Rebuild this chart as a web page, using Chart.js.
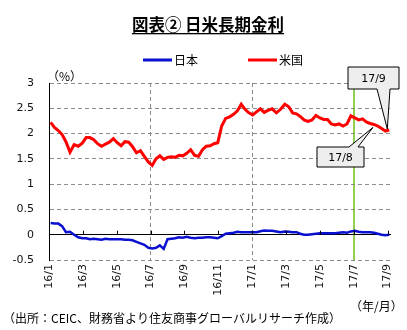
<!DOCTYPE html>
<html lang="ja">
  <head>
    <meta charset="UTF-8" />
    <title>日米長期金利</title>
    <script src="https://cdn.jsdelivr.net/npm/chart.js@4.4.0/dist/chart.umd.min.js"></script>
    <style>
      body { margin: 0; background: #fff; }
      #wrap { width: 407px; height: 330px; }
    </style>
  </head>
  <body>
    <div id="wrap"><canvas id="rates" width="407" height="330"></canvas></div>

    <script>
      // weekly closes, starting Monday 2016-01-04
      var firstWeek = [2016, 0, 4];

      var jpYield = [
        0.23, 0.22, 0.22, 0.17, 0.05, 0.06, 0.00, -0.05, -0.07, -0.07,
        -0.09, -0.08, -0.09, -0.10, -0.08, -0.09, -0.09, -0.09, -0.09, -0.10,
        -0.10, -0.11, -0.14, -0.17, -0.20, -0.26, -0.27, -0.26, -0.21, -0.28,
        -0.09, -0.08, -0.07, -0.05, -0.06, -0.04, -0.06, -0.07, -0.06, -0.06,
        -0.05, -0.05, -0.06, -0.07, -0.03, 0.02, 0.03, 0.04, 0.06, 0.05,
        0.05, 0.05, 0.05, 0.05, 0.07, 0.085, 0.08, 0.08, 0.065, 0.05,
        0.065, 0.06, 0.05, 0.05, 0.02, 0.00, 0.00, 0.01, 0.02, 0.03,
        0.03, 0.03, 0.03, 0.03, 0.04, 0.05, 0.04, 0.065, 0.08, 0.06,
        0.05, 0.05, 0.05, 0.04, 0.02, 0.00, -0.01, 0.00
      ];

      var usYield = [
        2.22, 2.12, 2.06, 1.98, 1.84, 1.63, 1.78, 1.75, 1.81, 1.92,
        1.92, 1.88, 1.80, 1.75, 1.79, 1.83, 1.90, 1.82, 1.76, 1.84,
        1.83, 1.74, 1.62, 1.66, 1.55, 1.44, 1.37, 1.50, 1.56, 1.49,
        1.53, 1.54, 1.53, 1.57, 1.56, 1.61, 1.68, 1.57, 1.55, 1.68,
        1.75, 1.76, 1.80, 1.82, 2.15, 2.30, 2.33, 2.38, 2.45, 2.58,
        2.48, 2.41, 2.37, 2.43, 2.49, 2.42, 2.46, 2.49, 2.41, 2.48,
        2.58, 2.53, 2.41, 2.39, 2.34, 2.27, 2.24, 2.27, 2.36, 2.31,
        2.28, 2.28, 2.19, 2.17, 2.19, 2.15, 2.19, 2.35, 2.31, 2.27,
        2.29, 2.23, 2.20, 2.18, 2.15, 2.10, 2.05, 2.07
      ];

      var tickLabels = ["16/1", "16/3", "16/5", "16/7", "16/9", "16/11",
                        "17/1", "17/3", "17/5", "17/7", "17/9"];
      var seriesNames = ["日本", "米国"];
      var seriesColors = ["#0a10d0", "#ff0000"];

      // month offset from 2016/1 (fractional)
      function monthPos(d) {
        var dim = new Date(d.getFullYear(), d.getMonth() + 1, 0).getDate();
        return (d.getFullYear() - 2016) * 12 + d.getMonth() + (d.getDate() - 1) / dim;
      }

      function toPoints(values) {
        return values.map(function (v, i) {
          var d = new Date(firstWeek[0], firstWeek[1], firstWeek[2] + 7 * i);
          return { x: monthPos(d), y: v };
        });
      }

      var dashed = [4, 3];
      var cjk = '"Noto Sans CJK JP", sans-serif';

      // callout: box is [x, y, w, h], base is the notch on the given edge
      function callout(ctx, box, base, edge, tip, text) {
        var x = box[0], y = box[1], w = box[2], h = box[3];
        ctx.save();
        ctx.beginPath();
        if (edge == "bottom") {
          ctx.moveTo(x, y);
          ctx.lineTo(x + w, y);
          ctx.lineTo(x + w, y + h);
          ctx.lineTo(base[1], y + h);
          ctx.lineTo(tip.x, tip.y);
          ctx.lineTo(base[0], y + h);
          ctx.lineTo(x, y + h);
        } else {
          ctx.moveTo(x, y);
          ctx.lineTo(base[0], y);
          ctx.lineTo(tip.x, tip.y);
          ctx.lineTo(base[1], y);
          ctx.lineTo(x + w, y);
          ctx.lineTo(x + w, y + h);
          ctx.lineTo(x, y + h);
        }
        ctx.closePath();
        ctx.fillStyle = "#eeeeee";
        ctx.fill();
        ctx.strokeStyle = "#000";
        ctx.lineWidth = 1;
        ctx.stroke();
        ctx.fillStyle = "#000";
        ctx.font = "11px 'DejaVu Sans'";
        ctx.textAlign = "center";
        ctx.textBaseline = "middle";
        ctx.fillText(text, x + w / 2, y + h / 2 + 1);
        ctx.restore();
      }

      var decor = {
        id: "decor",
        afterDraw: function (chart) {
          var ctx = chart.ctx;
          var xs = chart.scales.x, ys = chart.scales.y;
          ctx.save();

          // title
          ctx.fillStyle = "#000";
          ctx.font = "bold 16.5px " + cjk;
          ctx.textAlign = "center";
          ctx.textBaseline = "alphabetic";
          var title = "図表② 日米長期金利";
          ctx.fillText(title, 208, 31);
          var tw = ctx.measureText(title).width;
          ctx.fillRect(208 - tw / 2, 33, tw, 1.3);

          // legend
          ctx.font = "12px " + cjk;
          ctx.textAlign = "left";
          ctx.textBaseline = "middle";
          var lx = [143, 248];
          for (var i = 0; i < 2; i++) {
            ctx.fillStyle = seriesColors[i];
            ctx.fillRect(lx[i], 58.5, 29, 3);
            ctx.fillStyle = "#000";
            ctx.fillText(seriesNames[i], lx[i] + 31, 60);
          }

          // units and source
          ctx.font = "12px " + cjk;
          ctx.fillText("（%）", 47, 76);
          ctx.fillText("（年/月）", 350, 306);
          ctx.fillText("（出所：CEIC、財務省より住友商事グローバルリサーチ作成）", 3, 318);

          // small ticks on the zero line
          var y0 = ys.getPixelForValue(0);
          ctx.strokeStyle = "#000";
          ctx.lineWidth = 1;
          ctx.beginPath();
          for (var m = 2; m <= 20; m += 2) {
            var px = Math.round(xs.getPixelForValue(m)) + 0.5;
            ctx.moveTo(px, y0);
            ctx.lineTo(px, y0 - 4);
          }
          ctx.stroke();

          // callouts on the US line
          var pts = chart.getDatasetMeta(1).data;
          var aug = pts[83], last = pts[pts.length - 1];
          callout(ctx, [317, 147, 47, 20], [349, 358], "top", { x: aug.x - 1, y: aug.y + 3 }, "17/8");
          callout(ctx, [348, 67, 51, 22], [377, 390], "bottom", { x: last.x - 2, y: last.y - 1 }, "17/9");

          ctx.restore();
        }
      };

      var ctx = document.getElementById("rates").getContext("2d");
      var rateChart = new Chart(ctx, {
        type: "line",
        data: {
          datasets: [
            {
              label: seriesNames[0],
              data: toPoints(jpYield),
              borderColor: seriesColors[0],
              borderWidth: 2.5,
              pointRadius: 0,
              tension: 0
            },
            {
              label: seriesNames[1],
              data: toPoints(usYield),
              borderColor: seriesColors[1],
              borderWidth: 3,
              pointRadius: 0,
              tension: 0
            }
          ]
        },
        options: {
          responsive: false,
          animation: false,
          events: [],
          layout: { padding: { top: 83, right: 16, left: 0, bottom: 0 } },
          plugins: { legend: { display: false }, title: { display: false }, tooltip: { enabled: false } },
          scales: {
            x: {
              type: "linear",
              min: 0,
              max: 20.2,
              afterFit: function (scale) { scale.height = 70; },
              border: {
                display: false,
                dash: function (c) { return c.tick && c.tick.value != 18 ? dashed : []; }
              },
              grid: {
                drawTicks: false,
                color: function (c) {
                  if (!c.tick) return "rgba(0,0,0,0)";
                  if (c.tick.value == 18) return "#92d050";
                  if (c.tick.value == 6 || c.tick.value == 12) return "#8c8c8c";
                  return "rgba(0,0,0,0)";
                },
                lineWidth: function (c) { return c.tick && c.tick.value == 18 ? 2 : 1; }
              },
              ticks: {
                stepSize: 2,
                includeBounds: false,
                autoSkip: false,
                minRotation: 90,
                maxRotation: 90,
                padding: 4,
                color: "#111",
                font: { family: "DejaVu Sans", size: 11 },
                callback: function (v) { return tickLabels[Math.round(v / 2)]; }
              }
            },
            y: {
              min: -0.5,
              max: 3,
              afterFit: function (scale) { scale.width = 49; },
              border: {
                color: "#000",
                width: 1,
                dash: function (c) { return c.tick && c.tick.value != 0 ? dashed : []; }
              },
              grid: {
                drawTicks: false,
                color: function (c) { return c.tick && c.tick.value == 0 ? "#000" : "#8c8c8c"; }
              },
              ticks: {
                stepSize: 0.5,
                padding: 15,
                color: "#111",
                font: { family: "DejaVu Sans", size: 11 },
                callback: function (v) { return String(v); }
              }
            }
          }
        },
        plugins: [decor]
      });
    </script>
  </body>
</html>
